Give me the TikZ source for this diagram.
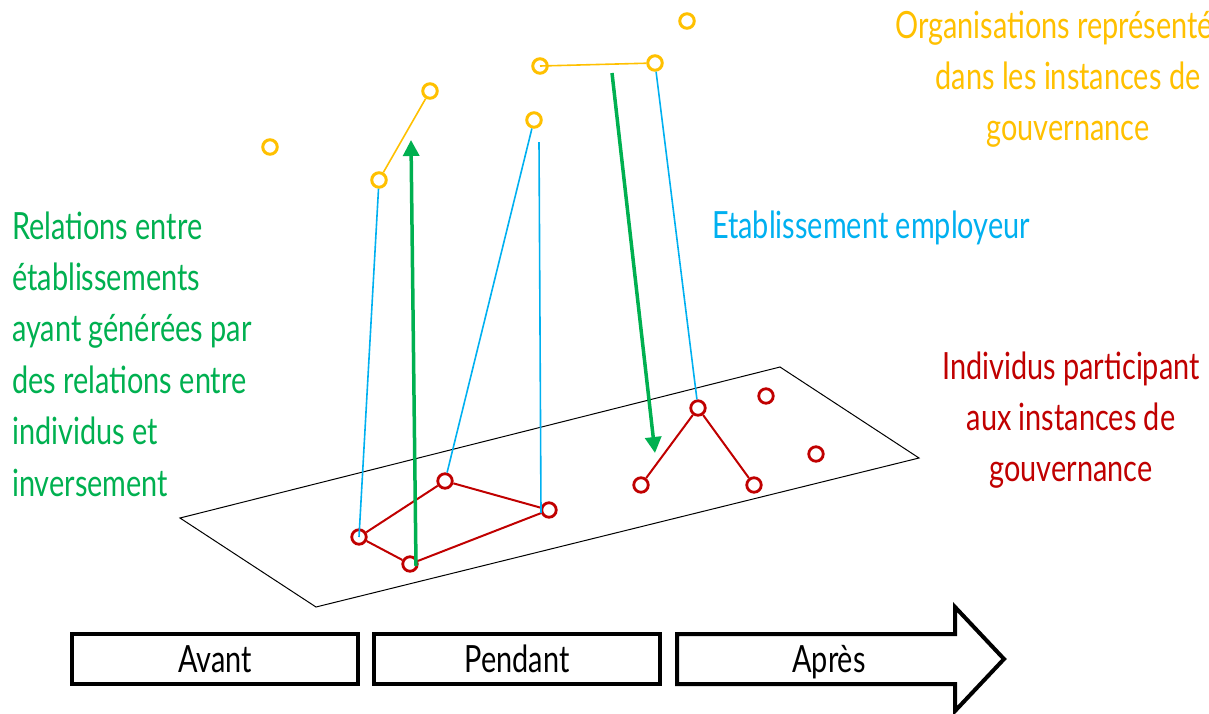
\documentclass[tikz,border=0pt]{standalone}
\usepackage{fontspec}
\setmainfont{Lato}[FakeStretch=0.77]
\usetikzlibrary{arrows.meta}
\definecolor{cOr}{HTML}{FFC000}
\definecolor{cBl}{HTML}{00B0F0}
\definecolor{cGr}{HTML}{00B050}
\definecolor{cRd}{HTML}{C00000}
\begin{document}
\begin{tikzpicture}[x=1pt,y=-1pt,
  org/.style={circle,draw=cOr,line width=3pt,minimum size=14.5pt,inner sep=0pt},
  ind/.style={circle,draw=cRd,line width=2.8pt,minimum size=14.5pt,inner sep=0pt},
  orgline/.style={draw=cOr,line width=1.6pt},
  indline/.style={draw=cRd,line width=2pt},
  empl/.style={draw=cBl,line width=1.6pt},
  relarrow/.style={draw=cGr,line width=3.5pt,-{Triangle[length=16pt,width=16pt]}},
  lbl/.style={inner sep=0pt,font=\fontsize{37.5}{51}\selectfont},
  phase/.style={draw=black,line width=4pt,minimum width=286pt,minimum height=50pt,inner sep=0pt},
  plane/.style={draw=black,line width=1pt}]
\useasboundingbox (0,0) rectangle (1209,713);
% plane
\draw[plane] (180,518) -- (780,367) -- (919,458) -- (316,607) -- cycle;
% organisations
\node[org] (o1) at (270,147) {};
\node[org] (o2) at (379,180) {};
\node[org] (o3) at (430,91) {};
\node[org] (o4) at (540,66) {};
\node[org] (o5) at (655,63) {};
\node[org] (o6) at (534,120) {};
\node[org] (o7) at (687,21) {};
% individus
\node[ind] (r1) at (359,537) {};
\node[ind] (r2) at (410,564) {};
\node[ind] (r3) at (445,481) {};
\node[ind] (r4) at (549,510) {};
\node[ind] (r5) at (698,408) {};
\node[ind] (r6) at (641,485) {};
\node[ind] (r7) at (754,485) {};
\node[ind] (r8) at (766,396) {};
\node[ind] (r9) at (816,454) {};
% links between organisations
\draw[orgline] (o2) -- (o3);
\draw[orgline] (o4.center) -- (o5);
% links between individuals
\draw[indline] (r1) -- (r3);
\draw[indline] (r1) -- (r2);
\draw[indline] (r2) -- (r4);
\draw[indline] (r3) -- (r4);
\draw[indline] (r5) -- (r6);
\draw[indline] (r5) -- (r7);
% employer links
\coordinate (v1) at (539,142);
\coordinate (v2) at (541,513);
\draw[empl] (o2) -- (r1.center);
\draw[empl] (o6) -- (r3);
\draw[empl] (v1) -- (v2);
\draw[empl] (o5) -- (r5);
% green arrows
\coordinate (g1s) at (416,566);
\coordinate (g1e) at (411,140);
\coordinate (g2s) at (612,73);
\coordinate (g2e) at (655,453);
\draw[relarrow] (g1s) -- (g1e);
\draw[relarrow] (g2s) -- (g2e);
% labels (base anchor = baseline of last line)
\node[lbl,text=cOr,align=center,anchor=base] (tOrg) at (1068,140) {Organisations représentées\\dans les instances de\\gouvernance};
\node[lbl,text=cBl,anchor=base west] (tEmp) at (712,238) {Etablissement employeur};
\node[lbl,text=cRd,align=center,anchor=base] (tInd) at (1071,481) {Individus participant\\aux instances de\\gouvernance};
\node[lbl,text=cGr,align=left,anchor=base west,font=\fontsize{37.5}{51.4}\selectfont] (tRel) at (12,496) {Relations entre\\établissements\\ayant générées par\\des relations entre\\individus et\\inversement};
% timeline
\node[phase] (avant) at (215,659) {};
\node[phase] (pendant) at (517,659) {};
\draw[line width=4pt,line join=miter] (677,634) -- (955,634) -- (955,607) -- (1004,659) -- (955,711) -- (955,684) -- (677,684) -- cycle;
\node[lbl,anchor=base] (tAvant) at (215,672) {Avant};
\node[lbl,anchor=base] (tPendant) at (517,672) {Pendant};
\node[lbl,anchor=base] (tApres) at (829,672) {Après};
\end{tikzpicture}
\end{document}
